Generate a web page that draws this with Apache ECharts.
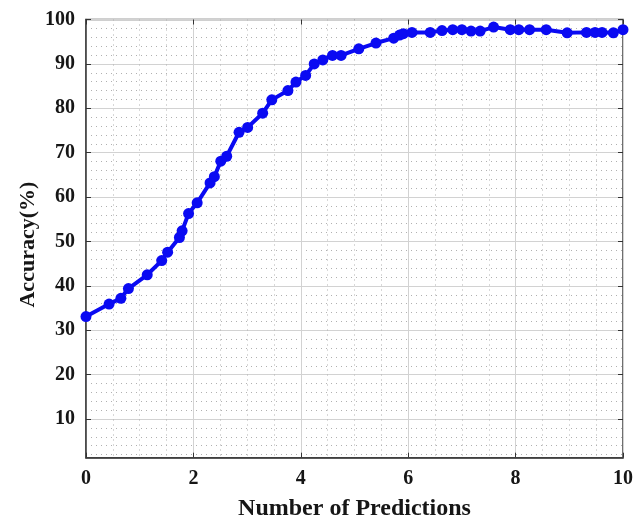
<!DOCTYPE html>
<html>
<head>
<meta charset="utf-8">
<script src="https://cdn.jsdelivr.net/npm/echarts@6/dist/echarts.min.js"></script>
<style>
  html, body { margin: 0; padding: 0; background: #ffffff; }
  #chart { width: 644px; height: 522px; }
</style>
</head>
<body>
<div id="chart"></div>
<script>
// Number of predictions (x) and the matching accuracy in percent (y)
const predictions = [
  0, 0.43, 0.65, 0.79, 1.14, 1.41, 1.52, 1.74, 1.79, 1.91,
  2.07, 2.31, 2.39, 2.51, 2.62, 2.85, 3.01, 3.29, 3.46, 3.76,
  3.91, 4.09, 4.25, 4.41, 4.59, 4.75, 5.08, 5.40, 5.73, 5.84,
  5.91, 6.07, 6.41, 6.63, 6.83, 7.00, 7.17, 7.34, 7.59, 7.90,
  8.06, 8.26, 8.57, 8.96, 9.32, 9.48, 9.61, 9.82, 10
];
const accuracy = [
  33.1, 35.9, 37.2, 39.4, 42.5, 45.7, 47.6, 50.9, 52.4, 56.3,
  58.7, 63.2, 64.6, 68.1, 69.2, 74.6, 75.7, 78.9, 81.9, 84.0,
  85.9, 87.4, 90.0, 90.9, 91.9, 91.9, 93.4, 94.7, 95.8, 96.5,
  96.8, 97.1, 97.1, 97.5, 97.7, 97.7, 97.4, 97.4, 98.3, 97.7,
  97.7, 97.7, 97.7, 97.0, 97.1, 97.1, 97.1, 97.0, 97.7
];
const yTickValues = [10, 20, 30, 40, 50, 60, 70, 80, 90, 100];
const yMinorValues = [2, 4, 6, 8, 12, 14, 16, 18, 22, 24, 26, 28, 32, 34, 36, 38,
  42, 44, 46, 48, 52, 54, 56, 58, 62, 64, 66, 68, 72, 74, 76, 78, 82, 84, 86, 88,
  92, 94, 96, 98];
const xTickValues = [0, 2, 4, 6, 8, 10];

const X_MIN = 0, X_MAX = 10, Y_MIN = 1.3, Y_MAX = 100;
const serif = '"Liberation Serif", "Times New Roman", serif';
const majorGrid = { show: true, lineStyle: { color: '#d2d2d2', width: 1, type: 'solid' } };
const minorGrid = { show: true, lineStyle: { color: '#b0b0b0', width: 1, type: [1, 4] } };
const tickLabel = { fontFamily: serif, fontWeight: 'bold', fontSize: 20, color: '#161616' };
const innerTick = { show: true, inside: true, length: 5, lineStyle: { color: '#333', width: 1 } };

const chart = echarts.init(document.getElementById('chart'), null, { renderer: 'canvas' });

chart.setOption({
  backgroundColor: '#ffffff',
  animation: false,
  grid: {
    left: 86, right: 21, top: 19.5, bottom: 64.3,
    outerBoundsMode: 'none',
    containLabel: false,
    show: true, borderColor: '#404040', borderWidth: 1.5, backgroundColor: 'transparent'
  },
  xAxis: [
    {
      type: 'value', min: X_MIN, max: X_MAX, interval: 2,
      position: 'bottom',
      name: 'Number of Predictions', nameLocation: 'middle', nameGap: 39,
      nameMoveOverlap: false,
      nameTextStyle: { fontFamily: serif, fontWeight: 'bold', fontSize: 24, color: '#161616' },
      axisLine: { show: true, lineStyle: { color: '#404040', width: 1.5 } },
      axisTick: innerTick,
      axisLabel: Object.assign({ margin: 11, customValues: xTickValues }, tickLabel),
      splitLine: majorGrid,
      minorTick: { show: false, splitNumber: 4 },
      minorSplitLine: minorGrid
    },
    {
      type: 'value', min: X_MIN, max: X_MAX, interval: 2,
      position: 'top',
      axisLine: { show: false },
      axisTick: innerTick,
      axisLabel: { show: false },
      splitLine: { show: false }
    }
  ],
  yAxis: [
    {
      type: 'value', min: Y_MIN, max: Y_MAX,
      position: 'left',
      name: 'Accuracy(%)', nameLocation: 'middle', nameGap: 47,
      nameMoveOverlap: false,
      nameTextStyle: {
        fontFamily: serif, fontWeight: 'bold', fontSize: 22, color: '#161616',
        padding: [0, 12, 0, 0]
      },
      axisLine: { show: true, lineStyle: { color: '#404040', width: 1.5 } },
      axisTick: Object.assign({ customValues: yTickValues }, innerTick),
      axisLabel: Object.assign({ margin: 11, customValues: yTickValues }, tickLabel),
      splitLine: majorGrid
    },
    {
      // dotted minor grid every 2 %
      type: 'value', min: Y_MIN, max: Y_MAX,
      position: 'left',
      axisLine: { show: false },
      axisTick: { show: false, customValues: yMinorValues },
      axisLabel: { show: false },
      splitLine: minorGrid
    },
    {
      type: 'value', min: Y_MIN, max: Y_MAX,
      position: 'right',
      axisLine: { show: false },
      axisTick: Object.assign({ customValues: yTickValues }, innerTick),
      axisLabel: { show: false },
      splitLine: { show: false }
    }
  ],
  series: [
    {
      type: 'line',
      xAxisIndex: 0,
      yAxisIndex: 0,
      data: predictions.map((x, i) => [x, accuracy[i]]),
      symbol: 'circle',
      symbolSize: 11,
      itemStyle: { color: '#0a0af2' },
      lineStyle: { color: '#0a0af2', width: 4 },
      z: 5
    }
  ]
});
</script>
</body>
</html>
